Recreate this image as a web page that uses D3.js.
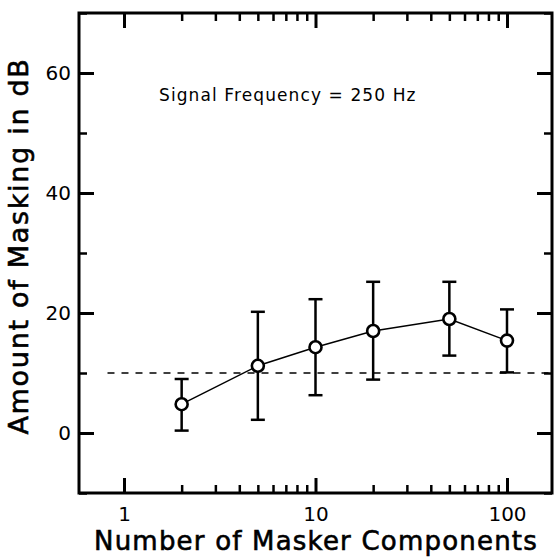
<!DOCTYPE html>
<meta charset="utf-8" />
<head>
  <script src="https://cdn.jsdelivr.net/npm/d3@7/dist/d3.min.js"></script>
  <title>Masking vs number of components</title>
  <style>
    body {
      margin: 0;
      background: #fff;
    }
    svg text {
      font-family: "DejaVu Sans", sans-serif;
      fill: #000;
    }
    .title {
      stroke: #000;
      stroke-width: 0.6px;
    }
    .axis path {
      display: none;
    }
    .axis line {
      stroke: #000;
    }
  </style>
</head>
<body>
  <svg id="chart" width="554" height="559"></svg>
</body>

<script>
  // number of masker components and masking (dB)
  const components = [2, 5, 10, 20, 50, 100];
  const masking = [4.8, 11.2, 14.3, 17.0, 19.0, 15.4];
  const upperBar = [9.0, 20.2, 22.3, 25.2, 25.2, 20.6];
  const lowerBar = [0.4, 2.2, 6.3, 8.9, 12.9, 10.1];

  // dashed reference level
  const refX = [0.82, 172];
  const refY = [10, 10];

  const xMajor = [1, 10, 100];
  const xMinor = [2, 3, 4, 5, 6, 7, 8, 9, 20, 30, 40, 50, 60, 70, 80, 90];
  const yMajor = [0, 20, 40, 60];
  const yMinor = [-10, 10, 30, 50, 70];

  const svg = d3.select("#chart");
  const margin = { top: 13, right: 2, bottom: 66, left: 79 },
    width = +svg.attr("width") - margin.left - margin.right,
    height = +svg.attr("height") - margin.top - margin.bottom;

  const x = d3
    .scaleLog()
    .domain([Math.pow(10, -0.235), Math.pow(10, 2.235)])
    .range([margin.left, margin.left + width]);

  const y = d3
    .scaleLinear()
    .domain([-10, 70])
    .range([margin.top + height, margin.top]);

  const plotTop = margin.top,
    plotBottom = margin.top + height,
    plotLeft = margin.left,
    plotRight = margin.left + width;

  const majorLen = 15,
    minorLen = 8;

  // bottom axis, ticks pointing in
  svg
    .append("g")
    .attr("class", "axis")
    .attr("transform", `translate(0,${plotBottom})`)
    .call(d3.axisBottom(x).tickValues(xMinor).tickSize(-minorLen).tickFormat(""))
    .selectAll("line")
    .attr("stroke-width", 2.5);

  const xAx = svg
    .append("g")
    .attr("class", "axis")
    .attr("transform", `translate(0,${plotBottom})`)
    .call(
      d3
        .axisBottom(x)
        .tickValues(xMajor)
        .tickSize(-majorLen)
        .tickPadding(14)
        .tickFormat(d3.format("d"))
    );
  xAx.selectAll("line").attr("stroke-width", 3);
  xAx.selectAll("text").style("font-size", "20px");

  // top axis, mirrored ticks
  svg
    .append("g")
    .attr("class", "axis")
    .attr("transform", `translate(0,${plotTop})`)
    .call(d3.axisTop(x).tickValues(xMinor).tickSize(-minorLen).tickFormat(""))
    .selectAll("line")
    .attr("stroke-width", 2.5);
  svg
    .append("g")
    .attr("class", "axis")
    .attr("transform", `translate(0,${plotTop})`)
    .call(d3.axisTop(x).tickValues(xMajor).tickSize(-majorLen).tickFormat(""))
    .selectAll("line")
    .attr("stroke-width", 3);

  // left axis
  svg
    .append("g")
    .attr("class", "axis")
    .attr("transform", `translate(${plotLeft},0)`)
    .call(d3.axisLeft(y).tickValues(yMinor).tickSize(-minorLen).tickFormat(""))
    .selectAll("line")
    .attr("stroke-width", 2.5);

  const yAx = svg
    .append("g")
    .attr("class", "axis")
    .attr("transform", `translate(${plotLeft},0)`)
    .call(d3.axisLeft(y).tickValues(yMajor).tickSize(-majorLen).tickPadding(8));
  yAx.selectAll("line").attr("stroke-width", 3);
  yAx.selectAll("text").style("font-size", "20px");

  // right axis
  svg
    .append("g")
    .attr("class", "axis")
    .attr("transform", `translate(${plotRight},0)`)
    .call(d3.axisRight(y).tickValues(yMinor).tickSize(-minorLen).tickFormat(""))
    .selectAll("line")
    .attr("stroke-width", 2.5);
  svg
    .append("g")
    .attr("class", "axis")
    .attr("transform", `translate(${plotRight},0)`)
    .call(d3.axisRight(y).tickValues(yMajor).tickSize(-majorLen).tickFormat(""))
    .selectAll("line")
    .attr("stroke-width", 3);

  // frame
  svg
    .append("rect")
    .attr("x", plotLeft)
    .attr("y", plotTop)
    .attr("width", width)
    .attr("height", height)
    .attr("fill", "none")
    .attr("stroke", "#000")
    .attr("stroke-width", 3);

  // dashed reference line
  svg
    .append("line")
    .attr("x1", x(refX[0]))
    .attr("x2", x(refX[1]))
    .attr("y1", y(refY[0]))
    .attr("y2", y(refY[1]))
    .attr("stroke", "#000")
    .attr("stroke-width", 1.3)
    .attr("stroke-dasharray", "7,7");

  const data = components.map((c, i) => ({
    n: c,
    v: masking[i],
    hi: upperBar[i],
    lo: lowerBar[i],
  }));

  // error bars
  const bars = svg.append("g").attr("stroke", "#000").attr("stroke-width", 2.5);
  bars
    .selectAll(".stem")
    .data(data)
    .enter()
    .append("line")
    .attr("x1", (d) => x(d.n))
    .attr("x2", (d) => x(d.n))
    .attr("y1", (d) => y(d.hi))
    .attr("y2", (d) => y(d.lo));
  bars
    .selectAll(".capHi")
    .data(data)
    .enter()
    .append("line")
    .attr("x1", (d) => x(d.n) - 7)
    .attr("x2", (d) => x(d.n) + 7)
    .attr("y1", (d) => y(d.hi))
    .attr("y2", (d) => y(d.hi));
  bars
    .selectAll(".capLo")
    .data(data)
    .enter()
    .append("line")
    .attr("x1", (d) => x(d.n) - 7)
    .attr("x2", (d) => x(d.n) + 7)
    .attr("y1", (d) => y(d.lo))
    .attr("y2", (d) => y(d.lo));

  const line = d3
    .line()
    .x((d) => x(d.n))
    .y((d) => y(d.v));

  svg
    .append("path")
    .attr("fill", "none")
    .attr("stroke", "#000")
    .attr("stroke-width", 1.5)
    .attr("d", line(data));

  svg
    .selectAll(".pt")
    .data(data)
    .enter()
    .append("circle")
    .attr("cx", (d) => x(d.n))
    .attr("cy", (d) => y(d.v))
    .attr("r", 6)
    .attr("fill", "#fff")
    .attr("stroke", "#000")
    .attr("stroke-width", 2.6);

  // texts
  svg
    .append("text")
    .attr("x", 159)
    .attr("y", 101)
    .style("font-size", "17px")
    .style("letter-spacing", "1.1px")
    .text("Signal Frequency = 250 Hz");

  svg
    .append("text")
    .attr("class", "title")
    .attr("x", 316)
    .attr("y", 550)
    .attr("text-anchor", "middle")
    .style("font-size", "26px")
    .style("letter-spacing", "1.2px")
    .text("Number of Masker Components");

  svg
    .append("text")
    .attr("class", "title")
    .attr("transform", "translate(28,246) rotate(-90)")
    .attr("text-anchor", "middle")
    .style("font-size", "27px")
    .style("letter-spacing", "1.7px")
    .text("Amount of Masking in dB");
</script>
